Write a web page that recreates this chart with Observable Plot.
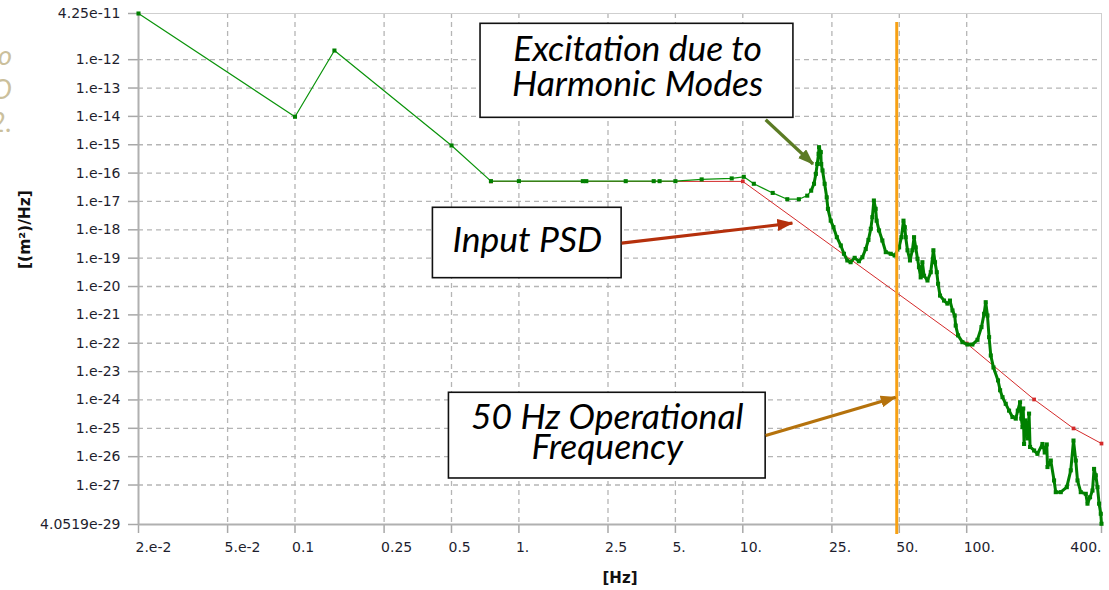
<!DOCTYPE html>
<html>
<head>
<meta charset="utf-8">
<script src="https://cdn.jsdelivr.net/npm/d3@7"></script>
<script src="https://cdn.jsdelivr.net/npm/@observablehq/plot@0.6"></script>
<style>
  html, body { margin: 0; padding: 0; background: #fff; }
  #wrap { position: relative; width: 1109px; height: 590px; overflow: hidden; background: #fff; }
  #chart { position: absolute; left: 0; top: 0; }
  #ghost { position: absolute; left: -188px; top: 38px; width: 200px; text-align: right; z-index: 2;
           font-family: Lato, sans-serif; font-style: italic; font-size: 27px; line-height: 33.5px; color: #cbc09c; }
</style>
</head>
<body>
<div id="wrap"><div id="chart"></div><div id="ghost">o<br>O<br>2.</div></div>
<script>
// ---- axis ticks ----
const xTicks = [0.02, 0.05, 0.1, 0.25, 0.5, 1, 2.5, 5, 10, 25, 50, 100, 400];
const xTickLabels = ["2.e-2", "5.e-2", "0.1", "0.25", "0.5", "1.", "2.5", "5.", "10.", "25.", "50.", "100.", "400."];
const yTicks = [4.25e-11, 1e-12, 1e-13, 1e-14, 1e-15, 1e-16, 1e-17, 1e-18, 1e-19, 1e-20, 1e-21, 1e-22, 1e-23, 1e-24, 1e-25, 1e-26, 1e-27, 4.0519e-29];
const yTickLabels = ["4.25e-11", "1.e-12", "1.e-13", "1.e-14", "1.e-15", "1.e-16", "1.e-17", "1.e-18", "1.e-19", "1.e-20", "1.e-21", "1.e-22", "1.e-23", "1.e-24", "1.e-25", "1.e-26", "1.e-27", "4.0519e-29"];
const xLabel = "[Hz]";
const yLabel = "[(m\u00B2)/Hz]";

// ---- response PSD (green) ----
const respFreq = [0.02, 0.1, 0.15, 0.5, 0.75, 1.0, 1.93, 2.0, 3.0, 4.0, 4.25, 5.0, 6.55, 8.92, 10.1,
  11.2, 13.6, 15.8, 17.8, 19.4, 20.2, 20.8, 21.2, 21.5, 21.8, 21.9, 22.3, 22.4, 22.7, 23.2, 23.7, 24.0, 24.7, 25.4,
  26.3, 27.4, 28.3, 29.3, 30.3, 31.6, 33.0, 34.2, 35.4, 36.4, 37.3, 37.9, 38.5, 39.2, 39.6, 40.6, 42.0, 43.5,
  45.8, 47.7, 49.9, 51.1, 52.2, 52.9, 53.4, 54.4, 55.8, 57.2, 58.2, 59.2, 60.3, 61.2, 62.3, 63.4, 64.5, 66.8,
  69.1, 71.0, 72.2, 73.5, 74.5, 76.0, 79.2, 82.0, 84.2, 86.4, 88.4, 89.3, 91.5, 95.7, 100.8, 106, 111.7, 116.4,
  119.6, 121.6, 123.8, 125.9, 128.1, 131.7, 138.0, 141.0, 144.5, 149.4, 154.6, 160.1, 165.6, 169.1, 173.1,
  175.3, 177.5, 178.9, 180.4, 183.0, 185.5, 187.4, 189.9, 191.9, 200.0, 207.0, 217.9, 223.1, 227.8, 229.5,
  237.4, 245.6, 249.9, 263.1, 279.9, 291.6, 299.9, 307.0, 312.5, 323.2, 340.3, 346.3, 355.6, 364.6, 370.6,
  377.2, 383.8, 390.2, 397.0, 400];
const respPsd = [4.25e-11, 9.7e-15, 2.1e-12, 9.4e-16, 5.2e-17, 5.2e-17, 5.2e-17, 5.2e-17, 5.2e-17, 5.2e-17, 5.2e-17, 5.2e-17, 6.0e-17, 6.5e-17, 7.4e-17,
  4.2e-17, 2.0e-17, 1.2e-17, 1.2e-17, 1.6e-17, 2.4e-17, 4.2e-17, 9.4e-17, 2.1e-16, 4.8e-16, 8.2e-16, 5.5e-16, 2.1e-16, 1.24e-16, 4.2e-17, 1.4e-17, 5.5e-18, 2.1e-18, 1.24e-18,
  5.5e-19, 2.8e-19, 1.43e-19, 8.3e-20, 7.2e-20, 1.03e-19, 7.8e-20, 1.08e-19, 2.1e-19, 4.4e-19, 1.09e-18, 2.8e-18, 1.08e-17, 5.5e-18, 2.1e-18, 9.5e-19, 4.2e-19, 1.63e-19,
  1.43e-19, 1.24e-19, 2.4e-19, 5.5e-19, 2.1e-18, 1.24e-18, 5.5e-19, 1.9e-19, 8.3e-20, 1.9e-19, 5.5e-19, 2.4e-19, 9.5e-20, 4.8e-20, 2.1e-20, 7.2e-20, 2.4e-20, 1.63e-20,
  3.2e-20, 1.9e-19, 7.2e-20, 3.2e-20, 1.25e-20, 4.8e-21, 3.2e-21, 2.5e-21, 3.2e-21, 1.43e-21, 9.5e-22, 4.2e-22, 1.9e-22, 1.09e-22, 9.0e-23, 9.0e-23, 1.32e-22, 3.7e-22,
  1.09e-21, 2.8e-21, 9.5e-22, 1.64e-22, 3.7e-23, 1.4e-23, 4.9e-24, 2.2e-24, 1.25e-24, 7.3e-25, 4.2e-25, 2.5e-25, 2.2e-25, 4.2e-25, 8.3e-25,
  2.2e-25, 1.1e-25, 5.0e-25, 2.8e-26, 1.9e-25, 1.1e-25, 4.4e-26, 3.3e-25, 2.2e-26, 1.65e-26, 1.26e-26, 2.8e-26, 1.4e-26, 2.7e-26, 4.3e-27,
  7.3e-27, 1.45e-27, 5.6e-28, 5.6e-28, 8.4e-28, 3.3e-27, 3.7e-26, 7.3e-27, 1.45e-27, 5.6e-28, 4.9e-28, 2.2e-28, 3.7e-28, 6.4e-28, 3.7e-27,
  2.2e-27, 8.4e-28, 2.2e-28, 9.7e-29, 4.3e-29];

// ---- input PSD (red) ----
const inputFreq = [0.75, 10, 100, 200, 300, 400];
const inputPsd = [5.1e-17, 5.1e-17, 9.8e-23, 1.04e-24, 9.9e-26, 2.9e-26];

// ---- operational frequency marker ----
const opFreq = [48.7];
const opPsdTop = [2.05e-11];
const opPsdBottom = [1.8e-29];

// ---- annotations (data coordinates) ----
const noteTexts = ["Excitation due to\nHarmonic Modes", "Input PSD", "50 Hz Operational\nFrequency"];
const noteTextFreq = [3.39, 1.09, 2.48];
const noteTextPsd = [5.03e-14, 1.63e-19, 7.96e-27];
const noteLineHeight = [0.995, 1, 0.865];
const noteBoxFreq1 = [0.674, 0.413, 0.487];
const noteBoxFreq2 = [16.83, 2.876, 12.65];
const noteBoxPsd1 = [1.84e-11, 5.98e-18, 1.79e-24];
const noteBoxPsd2 = [8.9e-15, 1.97e-20, 1.70e-27];
const arrowFromFreq = [12.65, 2.876, 12.65];
const arrowFromPsd = [7.6e-15, 3.4e-19, 5.6e-26];
const arrowToFreq = [20.6, 16.65, 48.2];
const arrowToPsd = [2.1e-16, 1.71e-18, 1.25e-24];
const arrowColors = ["#5b7b24", "#b5300c", "#b5720c"];

// ---- build tables ----
const resp = respFreq.map((f, i) => ({f, p: respPsd[i]}));
const respDense = resp.filter(d => d.f >= 20.2);
const input = inputFreq.map((f, i) => ({f, p: inputPsd[i]}));
const boxes = noteTexts.map((t, i) => ({x1: noteBoxFreq1[i], x2: noteBoxFreq2[i], y1: noteBoxPsd1[i], y2: noteBoxPsd2[i]}));
const arrows = arrowColors.map((c, i) => ({x1: arrowFromFreq[i], y1: arrowFromPsd[i], x2: arrowToFreq[i], y2: arrowToPsd[i], c}));
const xTickRows = xTicks.map((t, i) => ({t, label: xTickLabels[i]}));
const yLab = new Map(yTicks.map((t, i) => [t, yTickLabels[i]]));
const gridXTicks = xTicks.slice(1, -1);
const gridYTicks = yTicks.slice(1, -1);

const axisFont = "'DejaVu Sans', sans-serif";
const noteFont = "Lato, 'Open Sans', sans-serif";
const tickInk = "#1e1e2e";

const plot = Plot.plot({
  width: 1109,
  height: 590,
  marginLeft: 138,
  marginRight: 8,
  marginTop: 13,
  marginBottom: 66,
  style: {fontFamily: axisFont, fontSize: "14px", background: "#fff", color: tickInk, overflow: "visible"},
  x: {type: "log", domain: [0.02, 400]},
  y: {type: "log", domain: [4.0519e-29, 4.25e-11]},
  marks: [
    Plot.gridX({ticks: gridXTicks, stroke: "#b5b5b5", strokeOpacity: 1, strokeWidth: 1.3, strokeDasharray: "5,4"}),
    Plot.gridY({ticks: gridYTicks, stroke: "#b5b5b5", strokeOpacity: 1, strokeWidth: 1.3, strokeDasharray: "5,4"}),
    Plot.frame({stroke: "#cfcfcf", strokeWidth: 1}),
    Plot.axisY({ticks: yTicks, tickFormat: d => yLab.get(d), tickSize: 10, tickPadding: 8, stroke: "#a8a8a8", strokeWidth: 1.5, fill: tickInk, label: null}),
    Plot.axisX({ticks: xTicks, tickFormat: () => "", tickSize: 9, tickPadding: 9, stroke: "#a8a8a8", strokeWidth: 1.5, label: null}),
    Plot.text(xTickRows.slice(0, -1), {x: "t", text: "label", frameAnchor: "bottom", dy: 17.5, dx: -3, lineAnchor: "top", textAnchor: "start", fill: tickInk}),
    Plot.text(xTickRows.slice(-1), {x: "t", text: "label", frameAnchor: "bottom", dy: 17.5, lineAnchor: "top", textAnchor: "end", fill: tickInk}),
    Plot.ruleX([0.02], {stroke: "#b0b0b0", strokeWidth: 2}),
    Plot.ruleY([4.0519e-29], {stroke: "#b0b0b0", strokeWidth: 2}),
    Plot.text([xLabel], {frameAnchor: "bottom", dy: 58, fontWeight: "bold", fontSize: 15, fill: "#111"}),
    Plot.text([yLabel], {frameAnchor: "left", dx: -113, rotate: -90, fontWeight: "bold", fontSize: 15.5, fill: "#111"}),
    Plot.line(input, {x: "f", y: "p", stroke: "#d42a2a", strokeWidth: 1}),
    Plot.dot(input, {x: "f", y: "p", symbol: "square", r: 2.1, fill: "#d42a2a", stroke: "none"}),
    Plot.line(resp, {x: "f", y: "p", stroke: "#0a930a", strokeWidth: 1.2}),
    Plot.line(respDense, {x: "f", y: "p", stroke: "#008000", strokeWidth: 3}),
    Plot.dot(resp, {x: "f", y: "p", symbol: "square", r: 2.3, fill: "#008000", stroke: "none"}),
    Plot.ruleX(opFreq, {x: d => d, y1: () => opPsdTop[0], y2: () => opPsdBottom[0], stroke: "#f7a114", strokeWidth: 3}),
    Plot.rect(boxes, {x1: "x1", x2: "x2", y1: "y1", y2: "y2", fill: "#fff", stroke: "#111", strokeWidth: 1.6}),
    ...noteTexts.map((t, i) => Plot.text([t], {x: () => noteTextFreq[i], y: () => noteTextPsd[i], lineAnchor: "bottom", lineHeight: noteLineHeight[i],
      fontFamily: noteFont, fontStyle: "italic", fontSize: 35.5, fill: "#000"})),
    Plot.link(arrows, {x1: "x1", y1: "y1", x2: "x2", y2: "y2", stroke: "c", strokeWidth: 3.2})
  ]
});

const svg = d3.select(plot);
const defs = svg.append("defs");
arrowColors.forEach((c, i) => {
  defs.append("marker").attr("id", "ah" + i).attr("viewBox", "0 0 16 12")
    .attr("refX", 15).attr("refY", 6).attr("markerWidth", 16).attr("markerHeight", 12)
    .attr("markerUnits", "userSpaceOnUse").attr("orient", "auto")
    .append("path").attr("d", "M0,0L16,6L0,12Z").attr("fill", c);
});
svg.selectAll('g[aria-label="link"] path').each(function (d, i) {
  this.setAttribute("marker-end", `url(#ah${i})`);
});
document.getElementById("chart").appendChild(plot);
</script>
</body>
</html>
